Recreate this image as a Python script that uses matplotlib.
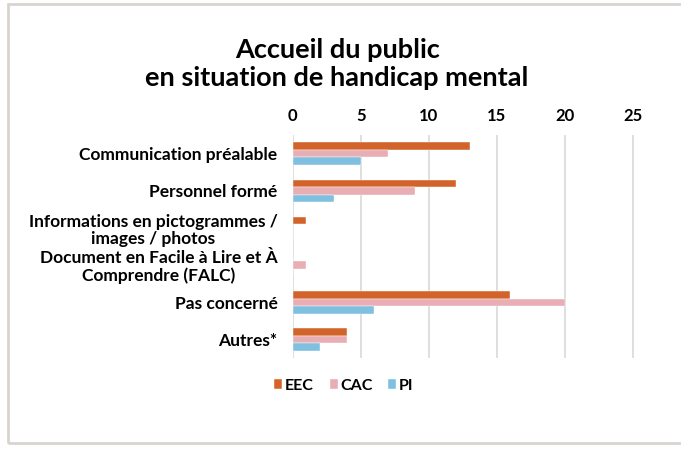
import numpy as np
import matplotlib
matplotlib.use("Agg")
import matplotlib.pyplot as plt
from matplotlib.patches import Rectangle

plt.rcParams['font.family'] = ['Lato', 'DejaVu Sans']

categories = ["Communication préalable",
              "Personnel formé",
              "Informations en pictogrammes /\nimages / photos",
              "Document en Facile à Lire et À\nComprendre (FALC)",
              "Pas concerné",
              "Autres*"]
series = ["EEC", "CAC", "PI"]
eec = [13, 12, 1, 0, 16, 4]
cac = [7, 9, 0, 1, 20, 4]
pi = [5, 3, 0, 0, 6, 2]
colors = ["#D2642B", "#E8AEB4", "#7FC0E0"]
xticks = [0, 5, 10, 15, 20, 25]

fig = plt.figure(figsize=(6.81, 4.5), dpi=100)
ax = fig.add_axes([0.430, 0.204, 0.505, 0.496])

y = np.arange(len(categories))
h = 0.2
for k, (vals, name) in enumerate(zip([eec, cac, pi], series)):
    ax.barh(y + (k - 1) * h, vals, height=h, color=colors[k], label=name,
            edgecolor="white", linewidth=0.3, zorder=3)

ax.set_ylim(len(categories) - 0.5, -0.5)
ax.set_xlim(0, 25.3)
ax.set_xticks(xticks)
ax.xaxis.tick_top()
ax.tick_params(axis="x", length=0, pad=8, labelsize=12)
ax.tick_params(axis="y", length=0, pad=11, labelsize=12.5)
for lab in ax.get_xticklabels():
    lab.set_fontweight("bold")
ax.set_yticks(y)
ax.set_yticklabels(categories, fontweight="bold", linespacing=1.1)
for lab in ax.get_yticklabels():
    lab.set_horizontalalignment("right")
    lab.set_multialignment("center")
ax.grid(axis="x", color="#D9D9D9", linewidth=1.2, zorder=0)
for s in ax.spines.values():
    s.set_visible(False)

fig.text(0.495, 0.858, "Accueil du public\nen situation de handicap mental",
         ha="center", va="center", fontsize=19.5, fontweight="bold",
         linespacing=1.2)

fig.legend(loc="center", bbox_to_anchor=(0.505, 0.143), ncol=3, frameon=False,
           handlelength=0.5, handleheight=0.5, handletextpad=0.15,
           columnspacing=1.0, prop={"weight": "bold", "size": 11.5})

fig.add_artist(Rectangle((7.5 / 681, 7 / 450), 1.0, 439 / 450,
                         transform=fig.transFigure, fill=False,
                         edgecolor="#D8D5CF", linewidth=2))

fig.savefig("out.png", dpi=100)
